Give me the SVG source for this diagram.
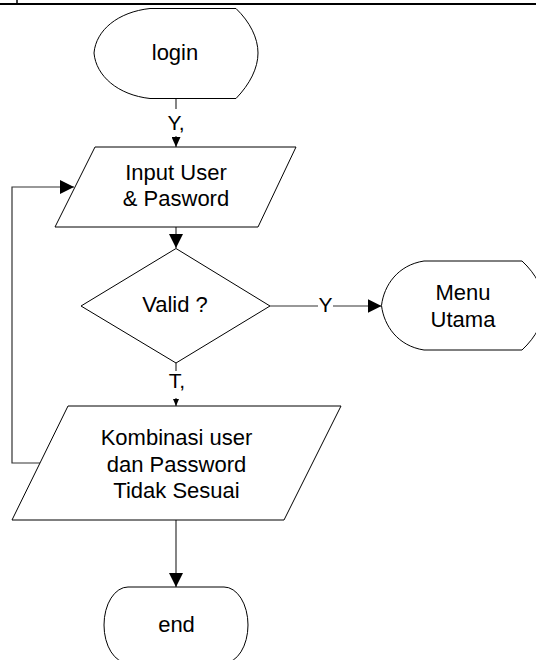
<svg xmlns="http://www.w3.org/2000/svg" width="536" height="660" viewBox="0 0 536 660">
<style>
.s{fill:#fff;stroke:#000;stroke-width:1}
.c{fill:none;stroke:#333;stroke-width:1.2}
.t{font-family:"Liberation Sans",Arial,sans-serif;font-size:22px;fill:#000;text-anchor:middle}
.l{font-family:"Liberation Sans",Arial,sans-serif;font-size:21px;fill:#000;text-anchor:middle}
</style>
<defs>
<marker id="ab" markerWidth="14" markerHeight="14" refX="14" refY="7" orient="auto" markerUnits="userSpaceOnUse"><path d="M0,0 L14,7 L0,14 Z" fill="#000"/></marker>
<marker id="as" markerWidth="10" markerHeight="9" refX="10" refY="4.5" orient="auto" markerUnits="userSpaceOnUse"><path d="M0,0 L10,4.5 L0,9 Z" fill="#000"/></marker>
<marker id="ax" markerWidth="7" markerHeight="6" refX="7" refY="3" orient="auto" markerUnits="userSpaceOnUse"><path d="M0,0 L7,3 L0,6 Z" fill="#000"/></marker>
</defs>
<g id="header">
<line x1="0" y1="4" x2="536" y2="4" stroke="#000" stroke-width="2"/>
<line x1="17" y1="0" x2="17" y2="4" stroke="#000" stroke-width="1.5"/>
</g>
<g id="connectors">
<line class="c" x1="176" y1="98.5" x2="176" y2="109"/>
<line class="c" x1="176" y1="136" x2="176" y2="147" marker-end="url(#as)"/>
<line class="c" x1="176" y1="227" x2="176" y2="248" marker-end="url(#ab)"/>
<polyline class="c" points="270,306 318,306"/>
<line class="c" x1="333" y1="306" x2="381.5" y2="306" marker-end="url(#ab)"/>
<line class="c" x1="176" y1="363" x2="176" y2="371"/>
<line class="c" x1="176" y1="398" x2="176" y2="406" marker-end="url(#ax)"/>
<line class="c" x1="176" y1="520" x2="176" y2="587" marker-end="url(#ab)"/>
<polyline class="c" points="40,463 12,463 12,187 74,187" marker-end="url(#ab)"/>
<text class="l" x="176" y="130">Y,</text>
<text class="l" x="325.5" y="312">Y</text>
<text class="l" x="177" y="388">T,</text>
</g>
<g id="login">
<path class="s" d="M150,8.5 H236 C250,22 258,38 258,53 C258,68 250,84 236,98.5 H150 C118,95 96,76 94,53 C96,30 118,12 150,8.5 Z"/>
<text class="t" x="175" y="60">login</text>
</g>
<g id="input">
<polygon class="s" points="95,147 296,147 258,227 55,227"/>
<text class="t" x="176" y="180">Input User</text>
<text class="t" x="176" y="206">&amp; Pasword</text>
</g>
<g id="valid">
<polygon class="s" points="176,248.5 270,306 176,363 81,306"/>
<text class="t" x="175" y="312">Valid ?</text>
</g>
<g id="menu">
<path class="s" d="M424,261 H522 C536,274 544.5,290 544.5,305.5 C544.5,321 536,337 522,350 H424 C398,346 384,326 381.5,305.5 C384,285 398,265 424,261 Z"/>
<text class="t" x="463" y="300">Menu</text>
<text class="t" x="463" y="326.5">Utama</text>
</g>
<g id="error">
<polygon class="s" points="68,406 341,406 284,520 12,520"/>
<text class="t" x="176.5" y="445">Kombinasi user</text>
<text class="t" x="176.5" y="471.5">dan Password</text>
<text class="t" x="176.5" y="497.5">Tidak Sesuai</text>
</g>
<g id="end">
<rect class="s" x="104" y="587" width="144" height="76" rx="24" ry="38"/>
<text class="t" x="176.5" y="632">end</text>
</g>
</svg>
